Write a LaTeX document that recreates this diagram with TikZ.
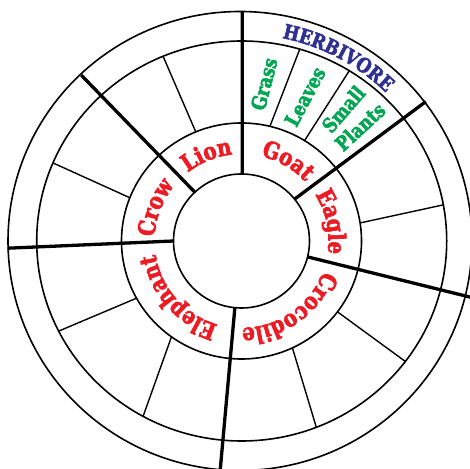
\documentclass[tikz,border=0pt]{standalone}
\usepackage{fontspec}
\newfontfamily\slab{DejaVu Serif}[BoldFeatures={FakeStretch=0.84,FakeBold=2.6}]
\usetikzlibrary{decorations.text,calc}
\definecolor{animalred}{HTML}{ED1C24}
\definecolor{foodgreen}{HTML}{00A651}
\definecolor{herbblue}{HTML}{2E3192}
\newcommand\arclabel[5]{%
  \pgfmathsetmacro\arcA{#1+60}\pgfmathsetmacro\arcB{#1-60}%
  \path[decorate, decoration={text along path, text color=#4, text align=center,
     text={|\slab\bfseries\fontsize{#3}{#3}\selectfont|#5}}]
     ($(C)+(\arcA:#2)$) arc[start angle=\arcA, end angle=\arcB, radius=#2];}
\begin{document}
\begin{tikzpicture}[x=1pt,y=1pt,
  ring/.style={line width=1.6pt},
  thinspoke/.style={line width=1.4pt},
  thickspoke/.style={line width=3.3pt},
  greentext/.style={text=foodgreen, font=\slab\bfseries\fontsize{20}{22}\selectfont, inner sep=0pt}]
\useasboundingbox (0,0) rectangle (470,468);
\fill[white] (0,0) rectangle (470,468);
\clip (0,0) rectangle (470,468);
\coordinate (C) at (241.5,227);
% rings
\draw[ring] (C) ellipse [x radius=68, y radius=67];
\draw[ring] (C) ellipse [x radius=120, y radius=118];
\draw[ring] (241.7,227) ellipse [x radius=205, y radius=200];
\draw[ring] (240,227) ellipse [x radius=232, y radius=229.5];
% thick spokes
\draw[thickspoke] ($(C)+(89.4:68 and 67)$) -- ($(C)+(89.8:232 and 229.5)$);
\draw[thickspoke] ($(C)+(133.3:68 and 67)$) -- ($(C)+(133.7:232 and 229.5)$);
\draw[thickspoke] ($(C)+(180:68 and 67)$) -- ($(C)+(181.8:234 and 229.5)$);
\draw[thickspoke] ($(C)+(264.4:68 and 67)$) -- ($(C)+(264.7:250)$);
\draw[thickspoke] ($(C)+(346.3:68 and 67)$) -- ($(C)+(346.2:250)$);
\draw[thickspoke] ($(C)+(38.7:68 and 67)$) -- ($(C)+(37.4:232 and 229.5)$);
% thin spokes
\draw[thinspoke] ($(C)+(76.3:120 and 118)$) -- ($(C)+(73.5:205 and 200)$);
\draw[thinspoke] ($(C)+(58.3:120 and 118)$) -- ($(C)+(58.3:205 and 200)$);
\draw[thinspoke] ($(C)+(112.4:120 and 118)$) -- ($(C)+(112.5:205 and 200)$);
\draw[thinspoke] ($(C)+(158.5:120 and 118)$) -- ($(C)+(157:205 and 200)$);
\draw[thinspoke] ($(C)+(209:120 and 118)$) -- ($(C)+(206.8:205 and 200)$);
\draw[thinspoke] ($(C)+(234.3:120 and 118)$) -- ($(C)+(241.3:205 and 200)$);
\draw[thinspoke] ($(C)+(-64.9:120 and 118)$) -- ($(C)+(-68.6:205 and 200)$);
\draw[thinspoke] ($(C)+(-36.9:120 and 118)$) -- ($(C)+(-37:205 and 200)$);
\draw[thinspoke] ($(C)+(8.8:120 and 118)$) -- ($(C)+(10.4:205 and 200)$);
% animal labels
\arclabel{112}{87}{23.5}{animalred}{Lion}
\arclabel{60}{87}{23.5}{animalred}{Goat}
\arclabel{12}{87}{23.5}{animalred}{Eagle}
\arclabel{-55}{87}{23.5}{animalred}{Crocodile}
\arclabel{221.5}{87}{23.5}{animalred}{Elephant}
\arclabel{158.8}{87}{23.5}{animalred}{Crow}
% herbivore
\arclabel{62.2}{207}{20}{herbblue}{HERBIVORE}
% food labels
\node[greentext, rotate=75.5] (grass) at (264,384) {Grass};
\node[greentext, rotate=62] (leaves) at (305,371.3) {Leaves};
\node[greentext, rotate=49] (small) at (343.3,358.8) {Small};
\node[greentext, rotate=42.7] (plants) at (360,341.3) {Plants};
\end{tikzpicture}
\end{document}
